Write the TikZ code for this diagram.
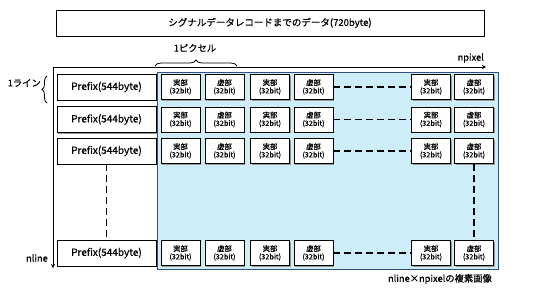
\documentclass[tikz,border=0pt]{standalone}
\usepackage{fontspec}
\setmainfont{Noto Sans CJK JP}[FakeBold=0.6]
\usepackage{tikz}
\usetikzlibrary{arrows,positioning,calc,shadows,decorations.pathreplacing}
\definecolor{areafill}{RGB}{205,237,249}
\definecolor{areaedge}{RGB}{47,79,127}
\definecolor{boxshade}{RGB}{150,150,150}

\begin{document}
\begin{tikzpicture}[
    x=1pt, y=-1pt,
    box/.style={rectangle, draw, line width=0.8pt, fill=white, align=center, drop shadow={shadow xshift=1pt, shadow yshift=-1pt, fill=boxshade, opacity=1}},
    prefixbox/.style={box, minimum width=99pt, minimum height=26pt, font=\fontsize{10}{11}\selectfont},
    cellbox/.style={box, minimum width=39pt, minimum height=25pt, inner sep=1pt, font=\fontsize{7.3}{8}\selectfont},
    arrow/.style={->, >=stealth, line width=0.8pt},
    dotline/.style={dashed, dash pattern=on 7pt off 4pt, line width=1.4pt},
    label/.style={font=\fontsize{9.3}{10}\selectfont, inner sep=0pt}
]
\useasboundingbox (0,0) rectangle (533,300);

% Title
\node[rectangle, draw, line width=0.8pt, minimum width=428pt, minimum height=26pt, font=\fontsize{9.5}{10}\selectfont] (title) at (270,23) {シグナルデータレコードまでのデータ(720byte)};

% Image area
\node[rectangle, draw=areaedge, fill=areafill, line width=1pt, minimum width=341pt, minimum height=197pt] (imgarea) at (327.5,170.5) {};

% Axes
\coordinate (origin) at (53,67);
\coordinate (xend) at (486,67);
\coordinate (yend) at (53,268);
\draw[arrow] (origin) -- (xend);
\draw[arrow] (origin) -- (yend);
\node[label, anchor=south east] (npixel) at (484,63) {npixel};
\node[label, anchor=east] (nline) at (48,258) {nline};

% 1 pixel brace
\coordinate (pixl) at (155,66);
\coordinate (pixr) at (237,66);
\draw[line width=0.8pt, decorate, decoration={brace, amplitude=6pt}] (pixl) -- (pixr);
\node[label] (onepixel) at (195,48) {1ピクセル};

% 1 line brace
\coordinate (lineb) at (47,103);
\coordinate (linet) at (47,76);
\draw[line width=0.8pt, decorate, decoration={brace, amplitude=5pt}] (lineb) -- (linet);
\node[label, anchor=east] (oneline) at (41,83) {1ライン};

% Row 1
\node[prefixbox] (prefix1) at (106.5,87) {Prefix(544byte)};
\node[cellbox] (real1a) at (180.5,87) {実部\\(32bit)};
\node[cellbox] (imag1a) at (224.5,87) {虚部\\(32bit)};
\node[cellbox] (real1b) at (270,87) {実部\\(32bit)};
\node[cellbox] (imag1b) at (313.5,87) {虚部\\(32bit)};
\node[cellbox] (real1n) at (431,87) {実部\\(32bit)};
\node[cellbox] (imag1n) at (474,87) {虚部\\(32bit)};

% Row 2
\node[prefixbox] (prefix2) at (106.5,119.5) {Prefix(544byte)};
\node[cellbox] (real2a) at (180.5,119.5) {実部\\(32bit)};
\node[cellbox] (imag2a) at (224.5,119.5) {虚部\\(32bit)};
\node[cellbox] (real2b) at (270,119.5) {実部\\(32bit)};
\node[cellbox] (imag2b) at (313.5,119.5) {虚部\\(32bit)};
\node[cellbox] (real2n) at (431,119.5) {実部\\(32bit)};
\node[cellbox] (imag2n) at (474,119.5) {虚部\\(32bit)};

% Row 3
\node[prefixbox] (prefix3) at (106.5,151) {Prefix(544byte)};
\node[cellbox] (real3a) at (180.5,151) {実部\\(32bit)};
\node[cellbox] (imag3a) at (224.5,151) {虚部\\(32bit)};
\node[cellbox] (real3b) at (270,151) {実部\\(32bit)};
\node[cellbox] (imag3b) at (313.5,151) {虚部\\(32bit)};
\node[cellbox] (real3n) at (431,151) {実部\\(32bit)};
\node[cellbox] (imag3n) at (474,151) {虚部\\(32bit)};

% Row n
\node[prefixbox] (prefix4) at (106.5,253) {Prefix(544byte)};
\node[cellbox] (real4a) at (180.5,253) {実部\\(32bit)};
\node[cellbox] (imag4a) at (224.5,253) {虚部\\(32bit)};
\node[cellbox] (real4b) at (270,253) {実部\\(32bit)};
\node[cellbox] (imag4b) at (313.5,253) {虚部\\(32bit)};
\node[cellbox] (real4n) at (431,253) {実部\\(32bit)};
\node[cellbox] (imag4n) at (474,253) {虚部\\(32bit)};

% Dashed continuation
\draw[dotline] (imag1b) -- (real1n);
\draw[dotline] (imag2b) -- (real2n);
\draw[dotline] (imag3b) -- (real3n);
\draw[dotline] (imag4b) -- (real4n);
\draw[dotline] (prefix3) -- (prefix4);
\draw[dotline] (imag3n) -- (imag4n);

% Caption
\node[label, anchor=east] (caption) at (492,279) {nline×npixelの複素画像};

\end{tikzpicture}
\end{document}
